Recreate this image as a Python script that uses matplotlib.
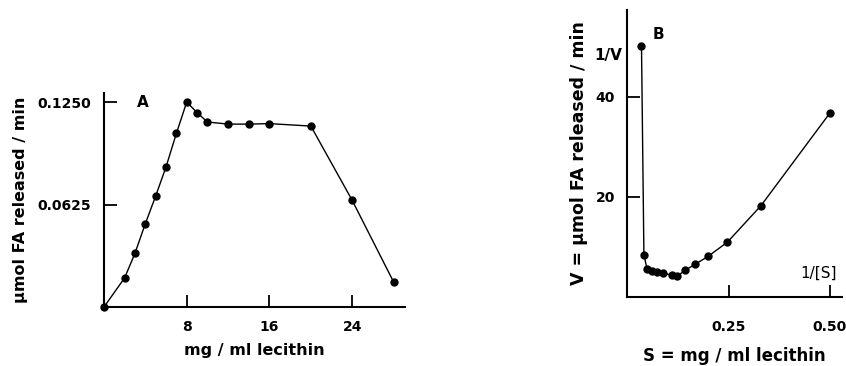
import matplotlib.pyplot as plt

# panel A: activity vs lecithin concentration
lecithin_a = [0, 2, 3, 4, 5, 6, 7, 8, 9, 10, 12, 14, 16, 20, 24, 28]
rate_a = [0.0, 0.0178, 0.0329, 0.0509, 0.0678, 0.0856, 0.106, 0.1252,
          0.1187, 0.113, 0.1117, 0.1117, 0.112, 0.1105, 0.0651, 0.0153]

# panel B: double reciprocal plot
inv_s = [0.035, 0.041, 0.049, 0.061, 0.073, 0.087, 0.110, 0.123,
         0.143, 0.168, 0.200, 0.247, 0.33, 0.50]
inv_v = [50.2, 8.3, 5.5, 5.1, 4.9, 4.7, 4.3, 4.1,
         5.3, 6.5, 8.1, 10.9, 18.2, 36.7]

xticks_a = [8, 16, 24]
yticks_a = [0.0625, 0.1250]
ytick_labels_a = ["0.0625", "0.1250"]
xticks_b = [0.25, 0.50]
xtick_labels_b = ["0.25", "0.50"]
yticks_b = [20, 40]

plt.rcParams['font.family'] = 'DejaVu Sans'
plt.rcParams['font.weight'] = 'bold'
plt.rcParams['font.size'] = 10

fig = plt.figure(figsize=(8.46, 3.66), dpi=100)


def style_axes(ax):
    for side in ['top', 'right']:
        ax.spines[side].set_visible(False)
    for side in ['left', 'bottom']:
        ax.spines[side].set_linewidth(1.5)
    ax.tick_params(direction='in', length=9, width=1.3, pad=9, labelsize=10)


# Panel A
ax1 = fig.add_axes([0.1229, 0.1612, 0.3558, 0.5847])
ax1.plot(lecithin_a, rate_a, color='black', lw=1.0, marker='o', ms=5,
         clip_on=False, zorder=3)
ax1.set_xlim(0, 29.1)
ax1.set_ylim(0, 0.1307)
ax1.set_xticks(xticks_a)
ax1.set_yticks(yticks_a)
ax1.set_yticklabels(ytick_labels_a)
style_axes(ax1)
ax1.set_xlabel("mg / ml lecithin", fontsize=11.5, fontweight='bold', labelpad=7)
ax1.set_ylabel("μmol FA released / min", fontsize=11.5, fontweight='bold', labelpad=7)
ax1.text(3.2, 0.1250, "A", fontsize=11, fontweight='bold', va='center')

# Panel B
ax2 = fig.add_axes([0.7415, 0.1893, 0.2538, 0.7834])
ax2.plot(inv_s, inv_v, color='black', lw=1.0, marker='o', ms=5,
         clip_on=False, zorder=3)
ax2.set_xlim(0, 0.53)
ax2.set_ylim(0, 57.3)
ax2.set_xticks(xticks_b)
ax2.set_xticklabels(xtick_labels_b)
ax2.set_yticks(yticks_b)
style_axes(ax2)
ax2.tick_params(axis='x', pad=17)
ax2.set_xlabel("S = mg / ml lecithin", fontsize=12, fontweight='bold', labelpad=9)
ax2.set_ylabel("V = μmol FA released / min", fontsize=12.5, fontweight='bold', labelpad=5)
ax2.text(0.076, 52.5, "B", fontsize=11, fontweight='bold', ha='center', va='center')
ax2.text(-0.048, 48.3, "1/V", fontsize=11, fontweight='bold', ha='center', va='center')
ax2.text(0.472, 4.7, "1/[S]", fontsize=11, fontweight='normal', ha='center', va='center')

fig.savefig("out.png", dpi=100)
